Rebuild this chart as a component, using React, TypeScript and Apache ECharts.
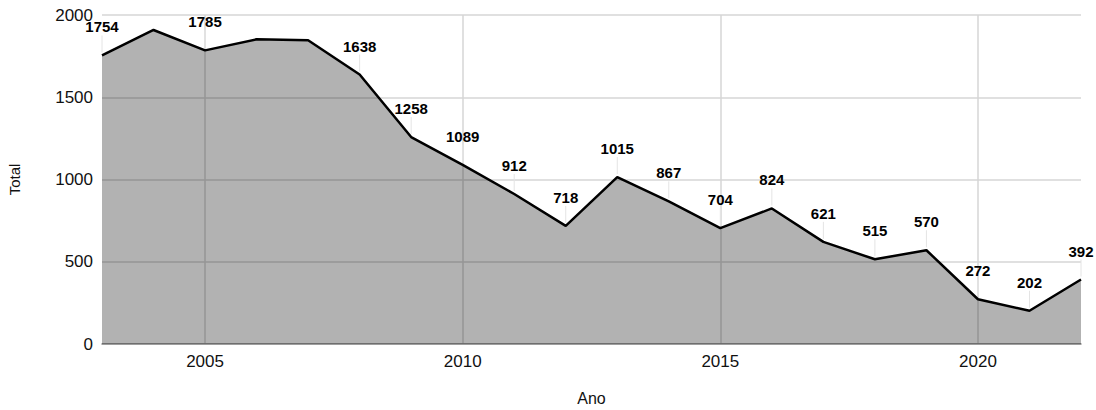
import React, { useEffect, useRef } from "react";
import * as echarts from "echarts";

const years = ["2003","2004","2005","2006","2007","2008","2009","2010","2011","2012","2013","2014","2015","2016","2017","2018","2019","2020","2021","2022"];
const totals = [1754, 1909, 1785, 1852, 1846, 1638, 1258, 1089, 912, 718, 1015, 867, 704, 824, 621, 515, 570, 272, 202, 392];
const hiddenLabels = ["2004", "2006", "2007"];
const yTicks = [0, 500, 1000, 1500, 2000];

const FONT = "'Liberation Sans', Arial, Helvetica, sans-serif";

export default function App() {
  const ref = useRef<HTMLDivElement>(null);
  useEffect(() => {
    if (!ref.current) return;
    const chart = echarts.init(ref.current, null, { renderer: "svg" });
    const isMajor = (_i: number, v: string) => Number(v) % 5 === 0;
    const leaderData = years
      .map((y, i) => [i, totals[i], y] as [number, number, string])
      .filter((d) => !hiddenLabels.includes(d[2]))
      .map((d) => [d[0], d[1]]);
    chart.setOption({
      animation: false,
      textStyle: { fontFamily: FONT },
      grid: {
        left: 102,
        right: 15,
        top: 15,
        bottom: 66,
        containLabel: false,
        outerBoundsMode: "none",
      },
      xAxis: {
        type: "category",
        data: years,
        boundaryGap: false,
        name: "Ano",
        nameLocation: "middle",
        nameGap: 46,
        nameTextStyle: { fontSize: 16, color: "#111", fontFamily: FONT },
        axisLine: { show: true, lineStyle: { color: "#888", width: 1.5 } },
        axisTick: { show: false },
        axisLabel: {
          interval: isMajor as any,
          fontSize: 17,
          color: "#111",
          margin: 9,
          fontFamily: FONT,
        },
        splitLine: {
          show: true,
          interval: isMajor as any,
          lineStyle: { color: "#d6d6d6", width: 1.5 },
        },
      },
      yAxis: {
        type: "value",
        min: yTicks[0],
        max: yTicks[yTicks.length - 1],
        interval: 500,
        name: "Total",
        nameLocation: "middle",
        nameGap: 80,
        nameRotate: 90,
        nameTextStyle: { fontSize: 15, color: "#111", fontFamily: FONT },
        axisLine: { show: false },
        axisTick: { show: false },
        axisLabel: {
          fontSize: 17,
          color: "#111",
          margin: 9,
          fontFamily: FONT,
          formatter: (v: number) => String(v),
        },
        splitLine: { show: true, lineStyle: { color: "#d6d6d6", width: 1.5 } },
      },
      series: [
        {
          type: "custom",
          z: 1,
          silent: true,
          data: leaderData,
          renderItem: (_params: any, api: any) => {
            const pt = api.coord([api.value(0), api.value(1)]);
            return {
              type: "line",
              shape: { x1: pt[0], y1: pt[1] - 3, x2: pt[0], y2: pt[1] - 20 },
              style: { stroke: "#e4e4e4", lineWidth: 1 },
            };
          },
        },
        {
          type: "line",
          z: 2,
          data: years.map((y, i) => ({
            value: totals[i],
            label: { show: !hiddenLabels.includes(y) },
          })),
          symbol: "circle",
          symbolSize: 0,
          showSymbol: true,
          itemStyle: { color: "#000" },
          lineStyle: { color: "#000", width: 2.5 },
          areaStyle: { color: "rgba(0,0,0,0.3)", opacity: 1, origin: "start" },
          label: {
            show: true,
            position: "top",
            distance: 21,
            fontSize: 15,
            fontWeight: "bold",
            color: "#000",
            fontFamily: FONT,
          },
        },
      ],
    });
    return () => chart.dispose();
  }, []);
  return <div ref={ref} style={{ width: 1096, height: 410, position: "absolute", left: 0, top: 0 }} />;
}
